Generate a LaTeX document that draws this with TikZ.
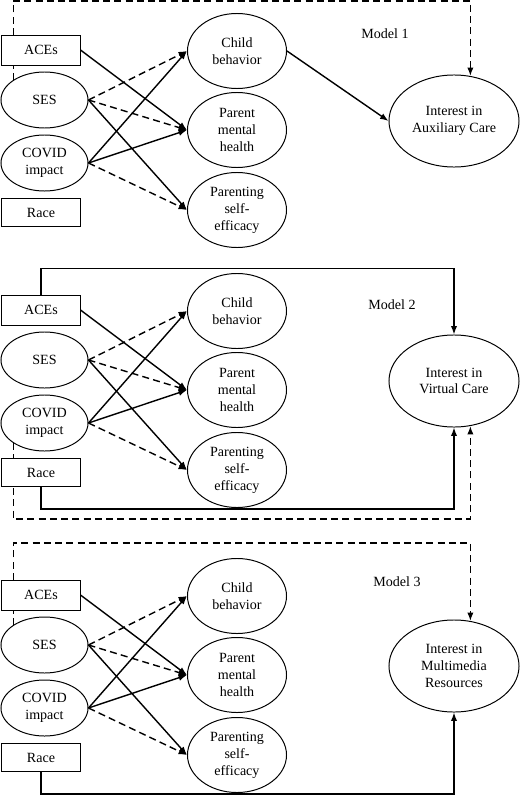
\documentclass[tikz,border=0pt]{standalone}
\usepackage{fontspec}
\setmainfont{Liberation Serif}
\usetikzlibrary{shapes.geometric, arrows.meta, backgrounds}

\begin{document}
\begin{tikzpicture}[x=0.025cm, y=-0.025cm,
    obs/.style={rectangle, draw, fill=white, line width=0.7pt, minimum width=1.95cm, inner sep=0pt},
    lat/.style={ellipse, draw, fill=white, line width=0.7pt, inner sep=0pt, align=center},
    arr/.style={-{Latex[length=6pt, width=4.5pt]}, line width=1pt},
    dsh/.style={arr, dash pattern=on 5pt off 3pt}]
    \useasboundingbox (0,0) rectangle (520,795);

    \foreach \m/\dy/\out in {1/0/{Interest in\\Auxiliary Care}, 2/260/{Interest in\\Virtual Care}, 3/545/{Interest in\\Multimedia\\Resources}} {
        % Predictors
        \node[obs, minimum height=0.75cm] (ace\m) at (41,50+\dy) {ACEs};
        \node[lat, minimum width=2.175cm, minimum height=1.4cm] (ses\m) at (44.5,100+\dy) {SES};
        \node[lat, minimum width=2.175cm, minimum height=1.4cm] (cov\m) at (44.5,163+\dy) {COVID\\impact};
        \node[obs, minimum height=0.7cm] (race\m) at (41,212.5+\dy) {Race};

        % Mediators
        \node[lat, minimum width=2.475cm, minimum height=1.875cm] (chb\m) at (237,51+\dy) {Child\\behavior};
        \node[lat, minimum width=2.475cm, minimum height=1.875cm] (pmh\m) at (237,130+\dy) {Parent\\mental\\health};
        \node[lat, minimum width=2.475cm, minimum height=1.875cm] (pse\m) at (237,210+\dy) {Parenting\\self-\\efficacy};

        % Outcome
        \node[lat, minimum width=3.25cm, minimum height=2.3cm] (out\m) at (454,121+\dy) {\out};

        % Paths to mediators
        \draw[arr] (ace\m.east) -- (pmh\m.west);
        \draw[dsh] (ses\m.east) -- (chb\m.west);
        \draw[dsh] (ses\m.east) -- (pmh\m.west);
        \draw[arr] (ses\m.east) -- (pse\m.west);
        \draw[arr] (cov\m.east) -- (chb\m.west);
        \draw[arr] (cov\m.east) -- (pmh\m.west);
        \draw[dsh] (cov\m.east) -- (pse\m.west);
    }

    % Model labels
    \node (lbl1) at (385,34) {Model 1};
    \node (lbl2) at (392,305) {Model 2};
    \node (lbl3) at (397,582) {Model 3};

    % Model 1
    \draw[arr] (chb1.east) -- (out1.west);
    \begin{scope}[on background layer]
        \draw[dsh] (ses1.north west) -- ++(0,-79) -| (out1.70);
    \end{scope}

    % Model 2
    \draw[arr] (ace2.north) -- ++(0,-26) -| (out2.north);
    \draw[arr] (race2.south) -- ++(0,22) -| (out2.south);
    \begin{scope}[on background layer]
        \draw[dsh] (cov2.south west) -- ++(0,76) -| (out2.-70);
    \end{scope}

    % Model 3
    \draw[arr] (race3.south) -- ++(0,22) -| (out3.south);
    \begin{scope}[on background layer]
        \draw[dsh] (ses3.north west) -- ++(0,-82) -| (out3.70);
    \end{scope}
\end{tikzpicture}
\end{document}
